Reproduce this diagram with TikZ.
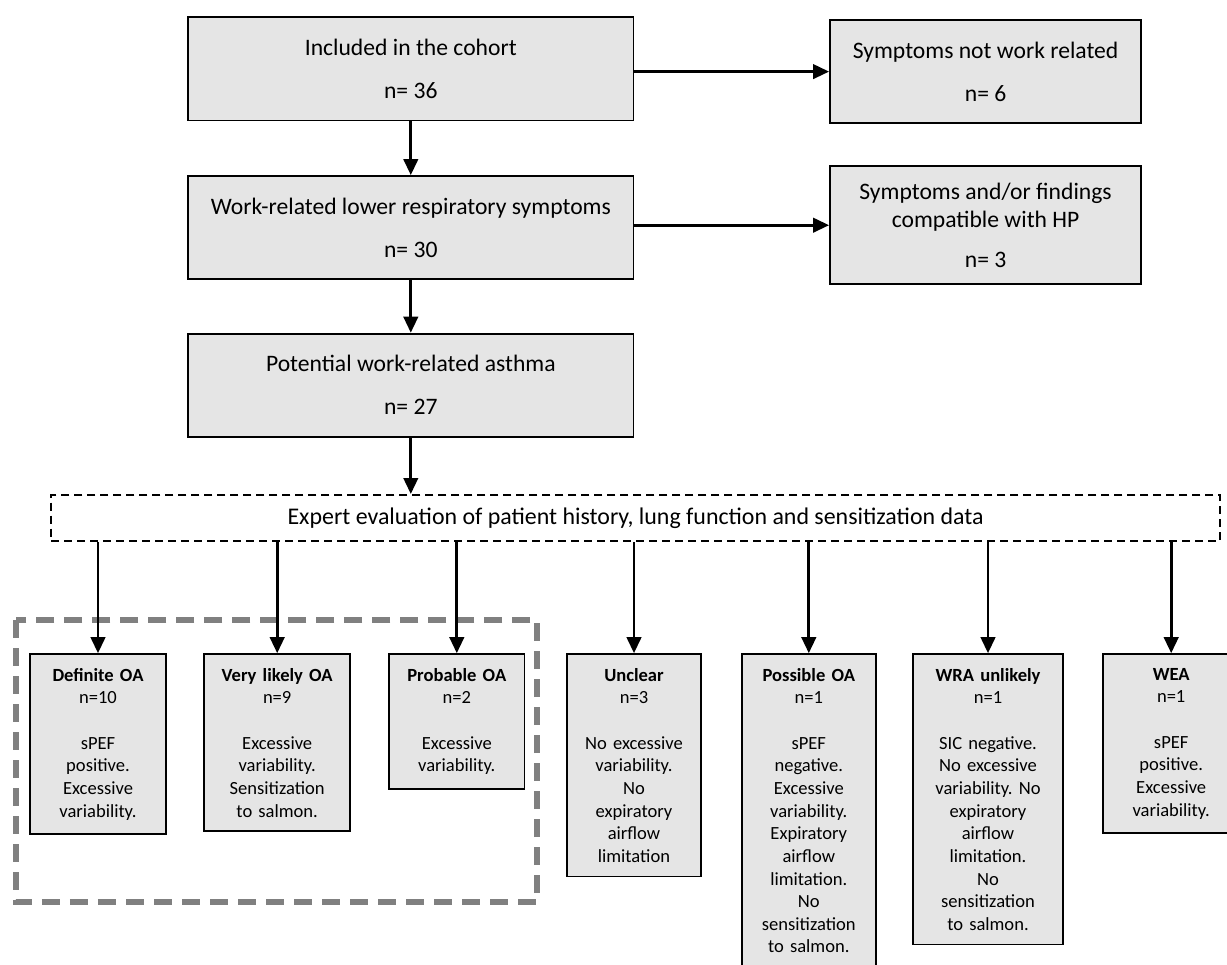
\documentclass[tikz,border=0pt]{standalone}
\usepackage{fontspec}
\setmainfont{Carlito}
\usetikzlibrary{arrows.meta}
\frenchspacing

\begin{document}
\begin{tikzpicture}[
    box/.style={draw, line width=0.45mm, fill=black!10, align=center, font=\fontsize{16.8}{20}\selectfont},
    outcome/.style={draw, line width=0.45mm, fill=black!10, align=center, anchor=north, inner xsep=0.1cm, inner ysep=0.35cm, font=\fontsize{13.2}{16.1}\selectfont},
    arr/.style={line width=0.7mm, ->, >={Triangle[length=0.4cm, width=0.36cm]}}]
    \useasboundingbox (0,0) rectangle (30.675,-24.125);
    \clip (0,0) rectangle (30.675,-24.125);
    % main branch
    \node[box, minimum width=11.13cm, minimum height=2.58cm] (inc) at (10.27,-1.72) {Included in the cohort\\[0.37cm] n= 36};
    \node[box, minimum width=11.13cm, minimum height=2.58cm] (wrs) at (10.27,-5.69) {Work-related lower respiratory symptoms\\[0.37cm] n= 30};
    \node[box, minimum width=11.13cm, minimum height=2.58cm] (pwa) at (10.27,-9.63) {Potential work-related asthma\\[0.37cm] n= 27};
    % excluded
    \node[box, minimum width=7.78cm, minimum height=2.58cm] (notwr) at (24.64,-1.79) {Symptoms not work related\\[0.37cm] n= 6};
    \node[box, minimum width=7.78cm, minimum height=2.95cm] (hp) at (24.64,-5.63) {Symptoms and/or findings\\ compatible with HP\\[0.28cm] n= 3};
    % evaluation
    \node[draw, line width=0.5mm, dash pattern=on 2mm off 1.25mm, minimum width=29.23cm, minimum height=1.15cm, font=\fontsize{17}{20}\selectfont] (expert) at (15.89,-12.95) {Expert evaluation of patient history, lung function and sensitization data};
    % OA group
    \draw[line width=1.5mm, black!50, dash pattern=on 4.5mm off 2.5mm] (0.40,-15.50) rectangle (13.43,-22.55);
    % outcomes
    \node[outcome, text width=3.2cm] (def) at (2.45,-16.33) {\textbf{Definite OA}\\ n=10\\[0.57cm] sPEF\\ positive.\\ Excessive\\ variability.};
    \node[outcome, text width=3.45cm] (vlk) at (6.93,-16.33) {\textbf{Very likely OA}\\ n=9\\[0.57cm] Excessive\\ variability.\\ Sensitization\\ to salmon.};
    \node[outcome, text width=3.18cm] (prob) at (11.42,-16.33) {\textbf{Probable OA}\\ n=2\\[0.57cm] Excessive\\ variability.};
    \node[outcome, text width=3.15cm] (uncl) at (15.85,-16.33) {\textbf{Unclear}\\ n=3\\[0.57cm] No excessive\\ variability.\\ No\\ expiratory\\ airflow\\ limitation};
    \node[outcome, text width=3.15cm] (poss) at (20.22,-16.33) {\textbf{Possible OA}\\ n=1\\[0.57cm] sPEF\\ negative.\\ Excessive\\ variability.\\ Expiratory\\ airflow\\ limitation.\\ No\\ sensitization\\ to salmon.};
    \node[outcome, text width=3.55cm] (wra) at (24.70,-16.33) {\textbf{WRA unlikely}\\ n=1\\[0.57cm] SIC negative.\\ No excessive\\ variability. No\\ expiratory\\ airflow\\ limitation.\\ No\\ sensitization\\ to salmon.};
    \node[outcome, text width=3.2cm] (wea) at (29.28,-16.33) {\textbf{WEA}\\ n=1\\[0.57cm] sPEF\\ positive.\\ Excessive\\ variability.};
    % arrows
    \draw[arr] (inc) -- (wrs);
    \draw[arr] (wrs) -- (pwa);
    \draw[arr] (pwa) -- (expert.north -| pwa.south);
    \draw[arr] (inc.east |- notwr.west) -- (notwr.west);
    \draw[arr] (wrs.east |- hp.west) -- (hp.west);
    \draw[arr] (def.north |- expert.south) -- (def.north);
    \draw[arr] (vlk.north |- expert.south) -- (vlk.north);
    \draw[arr] (prob.north |- expert.south) -- (prob.north);
    \draw[arr] (uncl.north |- expert.south) -- (uncl.north);
    \draw[arr] (poss.north |- expert.south) -- (poss.north);
    \draw[arr] (wra.north |- expert.south) -- (wra.north);
    \draw[arr] (wea.north |- expert.south) -- (wea.north);
\end{tikzpicture}
\end{document}
